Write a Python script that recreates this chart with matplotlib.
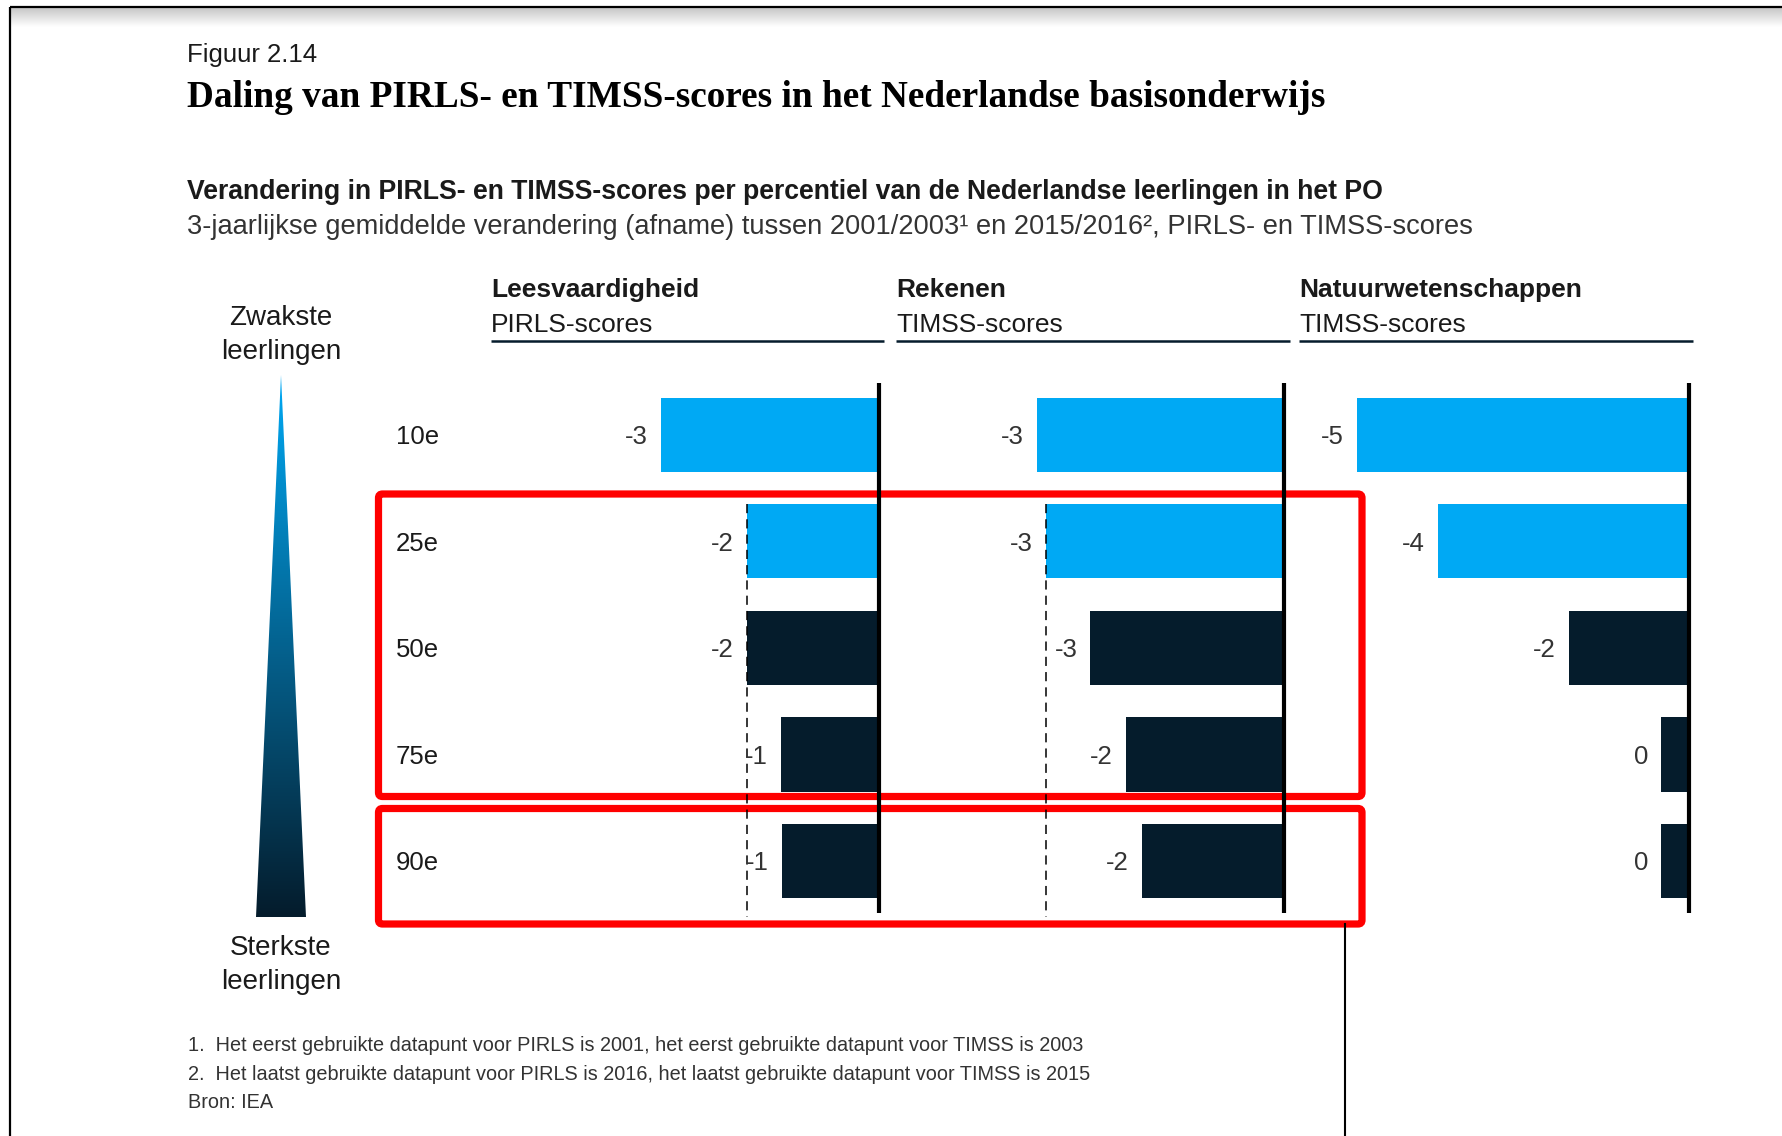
import numpy as np
import matplotlib
matplotlib.use('Agg')
import matplotlib.pyplot as plt
from matplotlib.patches import Polygon, FancyBboxPatch
from matplotlib.colors import LinearSegmentedColormap
from matplotlib.transforms import blended_transform_factory

# data: 3-yearly average change per percentile (bar lengths)
percentiles = ['10e', '25e', '50e', '75e', '90e']
pirls = [-2.9, -1.76, -1.76, -1.30, -1.29]
rekenen = [-3.4, -3.27, -2.66, -2.17, -1.95]
natuur = [-4.8, -3.63, -1.74, -0.40, -0.40]
pirls_labels = ['-3', '-2', '-2', '-1', '-1']
rekenen_labels = ['-3', '-3', '-3', '-2', '-2']
natuur_labels = ['-5', '-4', '-2', '0', '0']
subjects = ['Leesvaardigheid', 'Rekenen', 'Natuurwetenschappen']
tests = ['PIRLS-scores', 'TIMSS-scores', 'TIMSS-scores']
footnotes = [
    '1.  Het eerst gebruikte datapunt voor PIRLS is 2001, het eerst gebruikte datapunt voor TIMSS is 2003',
    '2.  Het laatst gebruikte datapunt voor PIRLS is 2016, het laatst gebruikte datapunt voor TIMSS is 2015',
    'Bron: IEA',
]

CYAN = '#00A9F4'
NAVY = '#051C2C'
TXT = '#1a1a1a'
RED = '#FF0000'

plt.rcParams['font.family'] = ['Liberation Sans', 'DejaVu Sans']

W, H = 1782, 1136
fig = plt.figure(figsize=(W / 100, H / 100), dpi=100)
fig.patch.set_facecolor('white')

# background axes in pixel coordinates for text and decoration
bg = fig.add_axes([0, 0, 1, 1], zorder=0)
bg.set_xlim(0, W)
bg.set_ylim(H, 0)
bg.axis('off')

# screenshot frame
bg.plot([10, W], [7, 7], color='black', lw=1.6, solid_capstyle='butt')
bg.plot([10, 10], [7, H], color='black', lw=1.6, solid_capstyle='butt')
shade = np.linspace(0, 1, 64).reshape(-1, 1)
bg.imshow(shade, extent=(11, W, 27, 8), aspect='auto', origin='upper',
          cmap=LinearSegmentedColormap.from_list('sh', ['#c8c8c8', '#ffffff']), zorder=1)

# titles
bg.text(187, 62, 'Figuur 2.14', fontsize=18.5, color=TXT, va='baseline')
bg.text(187, 107, 'Daling van PIRLS- en TIMSS-scores in het Nederlandse basisonderwijs',
        fontsize=26.8, fontweight='bold', family='Liberation Serif', color='black', va='baseline')
bg.text(187, 199, 'Verandering in PIRLS- en TIMSS-scores per percentiel van de Nederlandse leerlingen in het PO',
        fontsize=19.2, fontweight='bold', color=TXT, va='baseline')
bg.text(187, 234, '3-jaarlijkse gemiddelde verandering (afname) tussen 2001/2003\u00b9 en 2015/2016\u00b2, PIRLS- en TIMSS-scores',
        fontsize=19.6, color='#333333', va='baseline')

# gradient triangle
grad = np.linspace(0, 1, 256).reshape(-1, 1)
tri = Polygon([(281, 375), (306, 917), (256, 917)], closed=True, transform=bg.transData,
              facecolor='none', edgecolor='none')
bg.add_patch(tri)
im = bg.imshow(grad, extent=(256, 306, 917, 375), aspect='auto', origin='upper',
               cmap=LinearSegmentedColormap.from_list('g', [CYAN, '#04628f', NAVY]), zorder=1)
im.set_clip_path(tri)
bg.text(281, 325, 'Zwakste', fontsize=20, color=TXT, ha='center', va='baseline')
bg.text(281, 359, 'leerlingen', fontsize=20, color=TXT, ha='center', va='baseline')
bg.text(281, 955, 'Sterkste', fontsize=20, color=TXT, ha='center', va='baseline')
bg.text(281, 989, 'leerlingen', fontsize=20, color=TXT, ha='center', va='baseline')

# red highlight boxes and pointer line
for y0, y1 in [(494, 796.5), (808.5, 924)]:
    bg.add_patch(FancyBboxPatch((378.5, y0), 1362 - 378.5, y1 - y0,
                                boxstyle='round,pad=0,rounding_size=4',
                                facecolor='none', edgecolor=RED, lw=5.2, zorder=2))
bg.plot([1345, 1345], [924, H], color='black', lw=1.5)

# footnotes
for k, line in enumerate(footnotes):
    bg.text(188, 1051 + 28.5 * k, line, fontsize=14.3, color='#333333', va='baseline')

bg.set_xlim(0, W)
bg.set_ylim(H, 0)

# panels: (left px, right px, xlim) per subject
panel_px = [(491, 884), (896, 1290), (1299, 1693)]
panel_xlim = [(-5.16, 0.067), (-5.33, 0.082), (-5.64, 0.058)]
series = [pirls, rekenen, natuur]
labels = [pirls_labels, rekenen_labels, natuur_labels]
dashed = [True, True, False]
y_top, y_bot = 383, 920
rows = np.arange(len(percentiles))
colors = [CYAN, CYAN, NAVY, NAVY, NAVY]

for p in range(3):
    x0, x1 = panel_px[p]
    ax = fig.add_axes([x0 / W, 1 - y_bot / H, (x1 - x0) / W, (y_bot - y_top) / H], zorder=3)
    ax.patch.set_alpha(0)
    ax.set_xlim(*panel_xlim[p])
    ax.set_ylim(4.554, -0.488)
    ax.axis('off')
    vals = series[p]
    ax.barh(rows, vals, height=0.695, color=colors, zorder=2)
    ax.vlines(0, -0.49, 4.49, color='black', lw=3, zorder=3)
    if dashed[p]:
        ax.vlines(vals[1], 0.65, 4.53, color='black', lw=1.1, linestyles=(0, (6, 4)), zorder=3)
    for i, v in enumerate(vals):
        ax.annotate(labels[p][i], xy=(v, i), xytext=(-9.4, -1.5), textcoords='offset points',
                    ha='right', va='center', fontsize=18.5, color='#333333')

    # header with underline
    bg.text(x0, 297, subjects[p], fontsize=19, fontweight='bold', color=TXT, va='baseline')
    bg.text(x0, 332, tests[p], fontsize=19, color=TXT, va='baseline')
    bg.plot([x0, x1], [341, 341], color=NAVY, lw=1.8, solid_capstyle='butt')

    if p == 0:
        tr = blended_transform_factory(bg.transData, ax.transData)
        for i, name in enumerate(percentiles):
            ax.annotate(name, xy=(396, i), xycoords=tr, xytext=(0, -1.5), textcoords='offset points',
                        ha='left', va='center', fontsize=18.5, color=TXT)

fig.savefig('out.png', dpi=100, facecolor='white')
